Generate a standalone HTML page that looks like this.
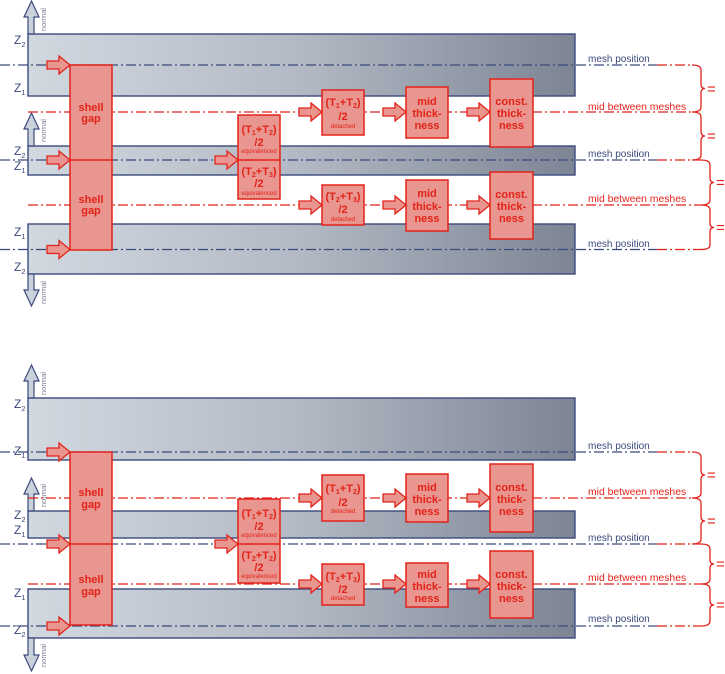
<!DOCTYPE html>
<html><head><meta charset="utf-8"><style>
html,body{margin:0;padding:0;background:#fff;}
svg{display:block;font-family:"Liberation Sans",Arial,sans-serif;}
.plate{fill:url(#pg);stroke:#3b4a7c;stroke-width:1.4;}
.mesh{stroke:#3b4a7c;stroke-width:1.2;stroke-dasharray:10 3 2 3;fill:none;}
.rl{stroke:#e2231a;stroke-width:1.2;stroke-dasharray:10 3 2 3;fill:none;}
.box{fill:#e8968f;stroke:#e2231a;stroke-width:1.5;}
.ra{fill:#e8968f;stroke:#e2231a;stroke-width:1.3;}
.na{fill:#c9d1da;stroke:#3b4a7c;stroke-width:1.2;}
.bt{fill:#e2231a;font-weight:bold;font-size:11px;text-anchor:middle;}
.sm{fill:#e2231a;font-size:6px;text-anchor:middle;}
.z{fill:#3b4a7c;font-size:12px;}
.nt{fill:#7a8090;font-size:7.5px;}
.mp{fill:#3b4a7c;font-size:10px;}
.mb{fill:#e2231a;font-size:10.4px;}
.br{fill:none;stroke:#e2231a;stroke-width:1.3;}
.eq{fill:#e2231a;font-size:15px;}
</style></head><body>
<svg width="725" height="674" viewBox="0 0 725 674" xmlns="http://www.w3.org/2000/svg">
<defs>
<linearGradient id="pg" gradientUnits="userSpaceOnUse" x1="28" y1="0" x2="575" y2="0">
<stop offset="0" stop-color="#d1d8e0"/><stop offset="0.5" stop-color="#b2b9c4"/><stop offset="1" stop-color="#7d8494"/>
</linearGradient>
</defs>

<!-- ===== TOP DIAGRAM ===== -->
<rect class="plate" x="28" y="34" width="547" height="62"/>
<rect class="plate" x="28" y="146" width="547" height="29"/>
<rect class="plate" x="28" y="224" width="547" height="50"/>

<path class="na" d="M28 34V17H24L31.5 1L39 17H34V34Z"/>
<path class="na" d="M28 146V129H24L31.5 113L39 129H34V146Z"/>
<path class="na" d="M28 274V290H24L31.5 306L39 290H34V274Z"/>
<text class="nt" transform="translate(46,31) rotate(-90)">normal</text>
<text class="nt" transform="translate(46,142) rotate(-90)">normal</text>
<text class="nt" transform="translate(46,304) rotate(-90)">normal</text>

<text class="z" x="14" y="44">Z<tspan font-size="7.5" dy="3">2</tspan></text>
<text class="z" x="14" y="92">Z<tspan font-size="7.5" dy="3">1</tspan></text>
<text class="z" x="14" y="155">Z<tspan font-size="7.5" dy="3">2</tspan></text>
<text class="z" x="14" y="170">Z<tspan font-size="7.5" dy="3">1</tspan></text>
<text class="z" x="14" y="236">Z<tspan font-size="7.5" dy="3">1</tspan></text>
<text class="z" x="14" y="271">Z<tspan font-size="7.5" dy="3">2</tspan></text>

<path class="mesh" d="M0 65H657"/><path class="rl" d="M657 65H692"/>
<path class="rl" d="M28 112H692"/>
<path class="mesh" d="M0 160H657"/><path class="rl" d="M657 160H701"/>
<path class="rl" d="M28 205H701"/>
<path class="mesh" d="M0 249.5H657"/><path class="rl" d="M657 249.5H701"/>

<text class="mp" x="588" y="62">mesh position</text>
<text class="mb" x="588" y="110">mid between meshes</text>
<text class="mp" x="588" y="157">mesh position</text>
<text class="mb" x="588" y="202">mid between meshes</text>
<text class="mp" x="588" y="247">mesh position</text>

<path class="br" d="M692 65Q701 65 701 70V84Q701 88.5 705 88.5Q701 88.5 701 93V107Q701 112 692 112M692 112Q701 112 701 117V131Q701 136 705 136Q701 136 701 141V155Q701 160 692 160"/>
<path class="br" d="M701 160Q710 160 710 165V178Q710 182.5 714 182.5Q710 182.5 710 187V200Q710 205 701 205M701 205Q710 205 710 210V223Q710 227.5 714 227.5Q710 227.5 710 232V245Q710 249.5 701 249.5"/>
<text class="eq" x="707" y="94">=</text>
<text class="eq" x="707" y="141">=</text>
<text class="eq" x="716" y="187.5">=</text>
<text class="eq" x="716" y="232.5">=</text>

<!-- boxes top -->
<rect class="box" x="70" y="65" width="42" height="185"/>
<path d="M70 160H112" stroke="#e2231a" stroke-width="1.5"/>
<text class="bt" x="91" y="111">shell</text><text class="bt" x="91" y="122">gap</text>
<text class="bt" x="91" y="203">shell</text><text class="bt" x="91" y="214">gap</text>

<rect class="box" x="238" y="115" width="42" height="84"/>
<path d="M238 160H280" stroke="#e2231a" stroke-width="1.5"/>
<text class="bt" x="259" y="133">(T<tspan font-size="7" dy="2">1</tspan><tspan dy="-2">+T</tspan><tspan font-size="7" dy="2">2</tspan><tspan dy="-2">)</tspan></text>
<text class="bt" x="259" y="146" font-size="12">/2</text>
<text class="sm" x="259" y="153">equivalenced</text>
<text class="bt" x="259" y="175">(T<tspan font-size="7" dy="2">2</tspan><tspan dy="-2">+T</tspan><tspan font-size="7" dy="2">3</tspan><tspan dy="-2">)</tspan></text>
<text class="bt" x="259" y="187" font-size="12">/2</text>
<text class="sm" x="259" y="195">equivalenced</text>

<rect class="box" x="322" y="90" width="42" height="45"/>
<text class="bt" x="343" y="106">(T<tspan font-size="7" dy="2">1</tspan><tspan dy="-2">+T</tspan><tspan font-size="7" dy="2">2</tspan><tspan dy="-2">)</tspan></text>
<text class="bt" x="343" y="120" font-size="12">/2</text>
<text class="sm" x="343" y="128">detached</text>
<rect class="box" x="322" y="185" width="42" height="40"/>
<text class="bt" x="343" y="200">(T<tspan font-size="7" dy="2">2</tspan><tspan dy="-2">+T</tspan><tspan font-size="7" dy="2">3</tspan><tspan dy="-2">)</tspan></text>
<text class="bt" x="343" y="213" font-size="12">/2</text>
<text class="sm" x="343" y="221">detached</text>

<rect class="box" x="406" y="87" width="42" height="51"/>
<text class="bt" x="427" y="105">mid</text><text class="bt" x="427" y="117">thick-</text><text class="bt" x="427" y="129">ness</text>
<rect class="box" x="406" y="180" width="42" height="51"/>
<text class="bt" x="427" y="197">mid</text><text class="bt" x="427" y="210">thick-</text><text class="bt" x="427" y="222">ness</text>

<rect class="box" x="490" y="79" width="43" height="68"/>
<text class="bt" x="511.5" y="105">const.</text><text class="bt" x="511.5" y="117">thick-</text><text class="bt" x="511.5" y="129">ness</text>
<rect class="box" x="490" y="172" width="43" height="67"/>
<text class="bt" x="511.5" y="198">const.</text><text class="bt" x="511.5" y="210">thick-</text><text class="bt" x="511.5" y="222">ness</text>

<path class="ra" d="M47 61H59V56L70 65L59 74V69H47Z"/>
<path class="ra" d="M47 156H59V151L70 160L59 169V164H47Z"/>
<path class="ra" d="M47 245.5H59V240.5L70 249.5L59 258.5V253.5H47Z"/>
<path class="ra" d="M215 156H227V151L238 160L227 169V164H215Z"/>
<path class="ra" d="M299 108H311V103L322 112L311 121V116H299Z"/>
<path class="ra" d="M383 108H395V103L406 112L395 121V116H383Z"/>
<path class="ra" d="M467 108H479V103L490 112L479 121V116H467Z"/>
<path class="ra" d="M299 201H311V196L322 205L311 214V209H299Z"/>
<path class="ra" d="M383 201H395V196L406 205L395 214V209H383Z"/>
<path class="ra" d="M467 201H479V196L490 205L479 214V209H467Z"/>

<!-- ===== BOTTOM DIAGRAM ===== -->
<rect class="plate" x="28" y="398" width="547" height="62"/>
<rect class="plate" x="28" y="511" width="547" height="27"/>
<rect class="plate" x="28" y="589" width="547" height="49"/>

<path class="na" d="M28 398V381H24L31.5 365L39 381H34V398Z"/>
<path class="na" d="M28 511V494H24L31.5 478L39 494H34V511Z"/>
<path class="na" d="M28 638V655H24L31.5 671L39 655H34V638Z"/>
<text class="nt" transform="translate(46,395) rotate(-90)">normal</text>
<text class="nt" transform="translate(46,507) rotate(-90)">normal</text>
<text class="nt" transform="translate(46,667) rotate(-90)">normal</text>

<text class="z" x="14" y="408">Z<tspan font-size="7.5" dy="3">2</tspan></text>
<text class="z" x="14" y="455">Z<tspan font-size="7.5" dy="3">1</tspan></text>
<text class="z" x="14" y="519">Z<tspan font-size="7.5" dy="3">2</tspan></text>
<text class="z" x="14" y="534">Z<tspan font-size="7.5" dy="3">1</tspan></text>
<text class="z" x="14" y="597">Z<tspan font-size="7.5" dy="3">1</tspan></text>
<text class="z" x="14" y="634">Z<tspan font-size="7.5" dy="3">2</tspan></text>

<path class="mesh" d="M0 452H657"/><path class="rl" d="M657 452H692"/>
<path class="rl" d="M28 498H692"/>
<path class="mesh" d="M0 544H657"/><path class="rl" d="M657 544H701"/>
<path class="rl" d="M28 584H701"/>
<path class="mesh" d="M0 626H657"/><path class="rl" d="M657 626H701"/>

<text class="mp" x="588" y="449">mesh position</text>
<text class="mb" x="588" y="495">mid between meshes</text>
<text class="mp" x="588" y="541">mesh position</text>
<text class="mb" x="588" y="581">mid between meshes</text>
<text class="mp" x="588" y="622">mesh position</text>

<path class="br" d="M692 452Q701 452 701 457V470.5Q701 475 705 475Q701 475 701 479.5V493Q701 498 692 498M692 498Q701 498 701 503V516.5Q701 521 705 521Q701 521 701 525.5V539Q701 544 692 544"/>
<path class="br" d="M701 544Q710 544 710 549V559.5Q710 564 714 564Q710 564 710 568.5V579Q710 584 701 584M701 584Q710 584 710 589V600.5Q710 605 714 605Q710 605 710 609.5V621Q710 626 701 626"/>
<text class="eq" x="707" y="480">=</text>
<text class="eq" x="707" y="526">=</text>
<text class="eq" x="716" y="569">=</text>
<text class="eq" x="716" y="610">=</text>

<rect class="box" x="70" y="452" width="42" height="173"/>
<path d="M70 544H112" stroke="#e2231a" stroke-width="1.5"/>
<text class="bt" x="91" y="496">shell</text><text class="bt" x="91" y="508">gap</text>
<text class="bt" x="91" y="583">shell</text><text class="bt" x="91" y="595">gap</text>

<rect class="box" x="238" y="499" width="42" height="84"/>
<path d="M238 544H280" stroke="#e2231a" stroke-width="1.5"/>
<text class="bt" x="259" y="517">(T<tspan font-size="7" dy="2">1</tspan><tspan dy="-2">+T</tspan><tspan font-size="7" dy="2">2</tspan><tspan dy="-2">)</tspan></text>
<text class="bt" x="259" y="530" font-size="12">/2</text>
<text class="sm" x="259" y="537">equivalenced</text>
<text class="bt" x="259" y="559">(T<tspan font-size="7" dy="2">2</tspan><tspan dy="-2">+T</tspan><tspan font-size="7" dy="2">2</tspan><tspan dy="-2">)</tspan></text>
<text class="bt" x="259" y="571" font-size="12">/2</text>
<text class="sm" x="259" y="578">equivalenced</text>

<rect class="box" x="322" y="475" width="42" height="46"/>
<text class="bt" x="343" y="492">(T<tspan font-size="7" dy="2">1</tspan><tspan dy="-2">+T</tspan><tspan font-size="7" dy="2">2</tspan><tspan dy="-2">)</tspan></text>
<text class="bt" x="343" y="506" font-size="12">/2</text>
<text class="sm" x="343" y="513">detached</text>
<rect class="box" x="322" y="564" width="42" height="41"/>
<text class="bt" x="343" y="580">(T<tspan font-size="7" dy="2">2</tspan><tspan dy="-2">+T</tspan><tspan font-size="7" dy="2">3</tspan><tspan dy="-2">)</tspan></text>
<text class="bt" x="343" y="593" font-size="12">/2</text>
<text class="sm" x="343" y="600">detached</text>

<rect class="box" x="406" y="474" width="42" height="48"/>
<text class="bt" x="427" y="491">mid</text><text class="bt" x="427" y="503">thick-</text><text class="bt" x="427" y="515">ness</text>
<rect class="box" x="406" y="563" width="42" height="44"/>
<text class="bt" x="427" y="578">mid</text><text class="bt" x="427" y="590">thick-</text><text class="bt" x="427" y="602">ness</text>

<rect class="box" x="490" y="464" width="43" height="68"/>
<text class="bt" x="511.5" y="491">const.</text><text class="bt" x="511.5" y="503">thick-</text><text class="bt" x="511.5" y="515">ness</text>
<rect class="box" x="490" y="551" width="43" height="67"/>
<text class="bt" x="511.5" y="578">const.</text><text class="bt" x="511.5" y="590">thick-</text><text class="bt" x="511.5" y="602">ness</text>

<path class="ra" d="M47 448H59V443L70 452L59 461V456H47Z"/>
<path class="ra" d="M47 540H59V535L70 544L59 553V548H47Z"/>
<path class="ra" d="M47 622H59V617L70 626L59 635V630H47Z"/>
<path class="ra" d="M215 540H227V535L238 544L227 553V548H215Z"/>
<path class="ra" d="M299 494H311V489L322 498L311 507V502H299Z"/>
<path class="ra" d="M383 494H395V489L406 498L395 507V502H383Z"/>
<path class="ra" d="M467 494H479V489L490 498L479 507V502H467Z"/>
<path class="ra" d="M299 580H311V575L322 584L311 593V588H299Z"/>
<path class="ra" d="M383 580H395V575L406 584L395 593V588H383Z"/>
<path class="ra" d="M467 580H479V575L490 584L479 593V588H467Z"/>
</svg>
</body></html>
